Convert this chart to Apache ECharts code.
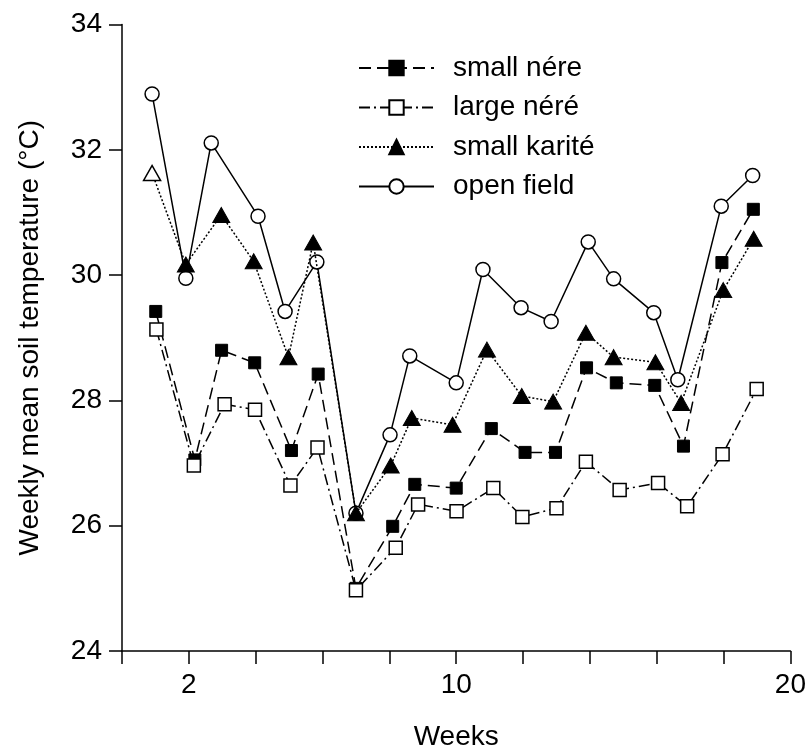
<!DOCTYPE html>
<html>
<head>
<meta charset="utf-8">
<title>Weekly mean soil temperature</title>
<script type="text/javascript" src="https://cdn.jsdelivr.net/npm/echarts@6/dist/echarts.min.js"></script>
<style>
html,body{margin:0;padding:0;background:#fff;}
#chart{width:809px;height:756px;}
</style>
</head>
<body>
<div id="chart"></div>
<script type="text/javascript">
    // series names (as printed in the legend)
    var seriesNames = ['small nére', 'large néré', 'small karité', 'open field'];

    // weeks and temperatures, one pair of arrays per series
    var smallNereWeeks = [1.01, 2.18, 2.98, 3.97, 5.07, 5.87, 7.0, 8.1, 8.76, 10.0, 11.05, 12.06, 12.97, 13.9, 14.79, 15.94, 16.8, 17.95, 18.89];
    var smallNereTemp  = [29.42, 27.05, 28.8, 28.6, 27.2, 28.42, 25.0, 25.99, 26.66, 26.6, 27.55, 27.17, 27.17, 28.52, 28.28, 28.24, 27.27, 30.2, 31.05];

    var largeNereWeeks = [1.03, 2.15, 3.07, 3.98, 5.04, 5.85, 7.0, 8.19, 8.86, 10.01, 11.11, 11.98, 13.0, 13.88, 14.89, 16.04, 16.91, 17.97, 18.99];
    var largeNereTemp  = [29.13, 26.96, 27.94, 27.85, 26.64, 27.25, 24.97, 25.65, 26.34, 26.23, 26.6, 26.14, 26.28, 27.02, 26.57, 26.68, 26.31, 27.14, 28.18];

    var kariteWeeks = [0.9, 1.91, 2.97, 3.94, 4.98, 5.72, 7.0, 8.04, 8.67, 9.89, 10.92, 11.96, 12.9, 13.88, 14.71, 15.96, 16.73, 17.99, 18.9];
    var kariteTemp  = [31.63, 30.17, 30.96, 30.22, 28.69, 30.52, 26.2, 26.96, 27.72, 27.61, 28.81, 28.07, 27.98, 29.08, 28.69, 28.61, 27.96, 29.76, 30.58];

    var openWeeks = [0.9, 1.91, 2.67, 4.07, 4.88, 5.83, 7.0, 8.02, 8.61, 10.0, 10.8, 11.94, 12.84, 13.95, 14.71, 15.91, 16.63, 17.93, 18.87];
    var openTemp  = [32.89, 29.95, 32.11, 30.94, 29.42, 30.21, 26.2, 27.45, 28.71, 28.28, 30.09, 29.48, 29.26, 30.53, 29.94, 29.4, 28.33, 31.1, 31.59];

    // x tick labels that are printed
    var xLabels = [2, 10, 20];

    var FONT = 'Liberation Sans';

    function pairs(xs, ys) {
        return xs.map(function(x, i) { return [x, ys[i]]; });
    }

    var filled = { color: '#000', borderColor: '#000', borderWidth: 1 };
    var hollow = { color: '#fff', borderColor: '#000', borderWidth: 1.5 };

    // first karité point is drawn hollow
    var kariteData = pairs(kariteWeeks, kariteTemp);
    kariteData[0] = { value: kariteData[0], itemStyle: hollow };

    var series = [
        {
            name: seriesNames[3], type: 'line', z: 2,
            data: pairs(openWeeks, openTemp),
            symbol: 'circle', symbolSize: 14,
            itemStyle: hollow,
            lineStyle: { color: '#000', width: 1.5, type: 'solid' }
        },
        {
            name: seriesNames[2], type: 'line', z: 3,
            data: kariteData,
            symbol: 'triangle', symbolSize: [17, 15],
            itemStyle: filled,
            lineStyle: { color: '#000', width: 1.5, type: [2, 2] }
        },
        {
            name: seriesNames[0], type: 'line', z: 4,
            data: pairs(smallNereWeeks, smallNereTemp),
            symbol: 'rect', symbolSize: 12,
            itemStyle: filled,
            lineStyle: { color: '#000', width: 1.5, type: [12, 6] }
        },
        {
            name: seriesNames[1], type: 'line', z: 5,
            data: pairs(largeNereWeeks, largeNereTemp),
            symbol: 'rect', symbolSize: 13,
            itemStyle: hollow,
            lineStyle: { color: '#000', width: 1.5, type: [11, 4, 2, 4] }
        }
    ];
    series.forEach(function(s) {
        s.showAllSymbol = true;
        s.emphasis = { disabled: true };
    });

    var axisCommon = {
        axisLine: { lineStyle: { color: '#000', width: 1.5 } },
        axisTick: { show: true, inside: false, length: 13, lineStyle: { color: '#000', width: 1.5 } },
        splitLine: { show: false },
        nameLocation: 'middle',
        nameTextStyle: { color: '#000', fontSize: 28, fontFamily: FONT }
    };

    var option = {
        animation: false,
        backgroundColor: '#fff',
        grid: { left: 122, right: 16, top: 24.5, bottom: 105 },
        legend: {
            data: seriesNames,
            orient: 'vertical',
            left: 353, top: 49,
            itemWidth: 75, itemHeight: 18, itemGap: 11.5,
            textStyle: { color: '#000', fontSize: 28, fontFamily: FONT, lineHeight: 28, padding: [0, 0, 0, 14] }
        },
        xAxis: Object.assign({}, axisCommon, {
            type: 'value', min: 0, max: 20, interval: 2,
            name: 'Weeks', nameGap: 72,
            axisLabel: {
                color: '#000', fontSize: 28, fontFamily: FONT, margin: 20,
                formatter: function(v) { return xLabels.indexOf(v) >= 0 ? String(v) : ''; }
            }
        }),
        yAxis: Object.assign({}, axisCommon, {
            type: 'value', min: 24, max: 34, interval: 2,
            name: 'Weekly mean soil temperature (°C)', nameGap: 78,
            axisLabel: { color: '#000', fontSize: 28, fontFamily: FONT, margin: 20 }
        }),
        series: series
    };

    var chart = echarts.init(document.getElementById('chart'));
    chart.setOption(option);
</script>
</body>
</html>
